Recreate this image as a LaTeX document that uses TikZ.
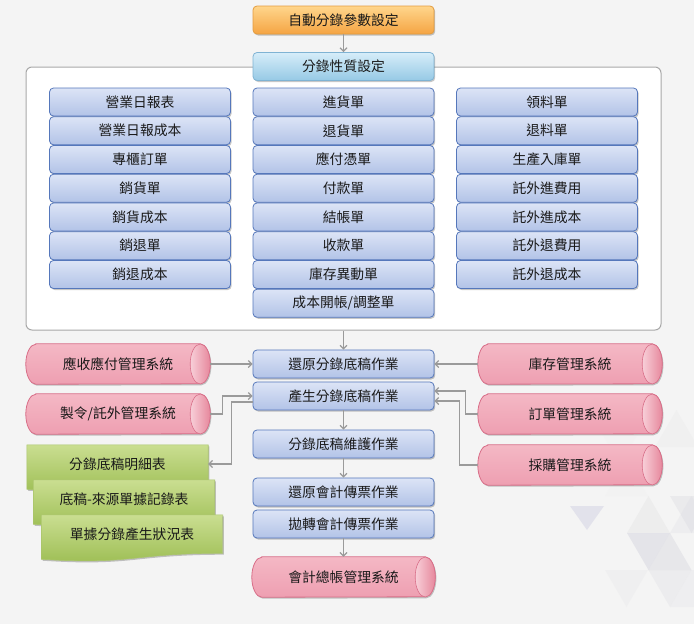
\documentclass[tikz,border=0pt]{standalone}
\usepackage{fontspec}
\newfontfamily\cjk{Noto Sans CJK TC}
\usetikzlibrary{arrows.meta,shadows,calc}
\pgfdeclarelayer{bg}\pgfdeclarelayer{mid}
\pgfsetlayers{bg,mid,main}
\definecolor{pagebg}{HTML}{F4F4F4}
\definecolor{boxtop}{HTML}{DCE4F6}
\definecolor{boxbot}{HTML}{B2C3E7}
\definecolor{boxline}{HTML}{5577BB}
\definecolor{ortop}{HTML}{FFD68C}
\definecolor{orbot}{HTML}{F5A443}
\definecolor{orline}{HTML}{E39C3F}
\definecolor{lbtop}{HTML}{D6EDF9}
\definecolor{lbbot}{HTML}{96C9E5}
\definecolor{lbline}{HTML}{7FB3D3}
\definecolor{pktop}{HTML}{F4B8C5}
\definecolor{pkmid}{HTML}{FBDCE3}
\definecolor{pkbot}{HTML}{EE9FB1}
\definecolor{pkline}{HTML}{D86E88}
\definecolor{pkendl}{HTML}{F8CFD8}
\definecolor{pkendr}{HTML}{E6889D}
\definecolor{grtop}{HTML}{CADE91}
\definecolor{grbot}{HTML}{9CBD52}
\definecolor{grline}{HTML}{A9C46A}
\definecolor{arrgray}{HTML}{9A9A9A}
\definecolor{panelline}{HTML}{A8A8A8}
\tikzset{
  base/.style={font=\cjk\fontsize{13.8}{16}\selectfont, text=black!90, inner sep=0pt, align=center},
  shade/.style={drop shadow={shadow xshift=1.2pt,shadow yshift=-1.5pt,fill=black,opacity=.22}},
  bluebox/.style={base, rectangle, rounded corners=4pt, minimum width=181pt, minimum height=28pt,
    draw=boxline, line width=0.8pt, top color=boxtop, bottom color=boxbot, shade},
  orbox/.style={bluebox, draw=orline, top color=ortop, bottom color=orbot},
  lbbox/.style={bluebox, draw=lbline, top color=lbtop, bottom color=lbbot},
  cylnode/.style={base, minimum width=184pt, minimum height=40pt},
  cylbody/.style={draw=pkline, line width=0.8pt, top color=pktop, middle color=pkmid, bottom color=pkbot, shade},
  cylend/.style={draw=pkline, line width=0.6pt, left color=pkendl, right color=pkendr},
  docnode/.style={base, minimum width=181pt, minimum height=38pt},
  docshape/.style={draw=grline, line width=0.6pt, top color=grtop, bottom color=grbot, shade},
  panelbox/.style={draw=panelline, line width=1pt, fill=white, rounded corners=6pt, inner sep=0pt},
  arr/.style={draw=arrgray, line width=1.2pt, -{Straight Barb[length=3.5pt,width=7pt]}},
  tri/.style={opacity=.32}
}
\newcommand\drawcyl[1]{%
  \path[cylbody] ([xshift=10pt]#1.north west) -- ([xshift=-10pt]#1.north east)
    arc[start angle=90,end angle=-90,x radius=10pt,y radius=20pt]
    -- ([xshift=10pt]#1.south west)
    arc[start angle=270,end angle=90,x radius=10pt,y radius=20pt] -- cycle;
  \path[cylend] ([xshift=-10pt]#1.east) ellipse[x radius=10pt,y radius=20pt];}
\newcommand\drawdoc[1]{%
  \path[docshape] (#1.north west) -- (#1.north east) -- (#1.south east)
    .. controls ($(#1.south east)+(-91,0)$) and ($(#1.south east)+(-91,12)$) .. ($(#1.south west)+(0,6)$) -- cycle;}
\begin{document}
\begin{tikzpicture}[x=1pt,y=-1pt]
\useasboundingbox (0,0) rectangle (694,624);
\begin{pgfonlayer}{bg}
  \fill[pagebg] (0,0) rectangle (694,624);
  \begin{scope}
    \clip (0,0) rectangle (694,624);
    \fill[tri, fill=white!85!blue!70!gray] (570,506) -- (604,506) -- (587,530) -- cycle;
    \fill[tri, fill=gray!25] (627,533) -- (670,533) -- (648.5,496) -- cycle;
    \fill[tri, fill=blue!15!gray!40] (627,533) -- (670,533) -- (648.5,570) -- cycle;
    \fill[tri, fill=blue!12!gray!35] (648.5,570) -- (691.5,570) -- (670,533) -- cycle;
    \fill[tri, fill=blue!10!gray!25] (648.5,570) -- (691.5,570) -- (670,607) -- cycle;
    \fill[tri, fill=blue!8!gray!22] (670,533) -- (713,533) -- (691.5,496) -- cycle;
    \fill[tri, fill=gray!18] (655,447) -- (698,447) -- (676.5,410) -- cycle;
    \fill[tri, fill=blue!6!gray!18] (605,570) -- (648,570) -- (626.5,607) -- cycle;
    \fill[tri, fill=gray!12] (605,496) -- (648,496) -- (626.5,459) -- cycle;
    \fill[tri, fill=blue!10!gray!30] (670,496) -- (713,496) -- (691.5,533) -- cycle;
    \fill[tri, fill=blue!8!gray!20] (691.5,570) -- (734,570) -- (713,607) -- (670,607) -- cycle;
    \fill[tri, fill=gray!12] (600,430) -- (640,430) -- (620,465) -- cycle;
  \end{scope}
\end{pgfonlayer}

% container
\node[panelbox, minimum width=635pt, minimum height=263pt] (panel) at (343.5,198.5) {};

% top boxes
\node[orbox] (auto) at (343.5,20) {自動分錄參數設定};
\node[lbbox] (nat) at (343.5,66.5) {分錄性質設定};

% three columns
\foreach \t [count=\i from 0] in {營業日報表,營業日報成本,專櫃訂單,銷貨單,銷貨成本,銷退單,銷退成本}
  \node[bluebox] (a\i) at (140,{102+28.75*\i}) {\t};
\foreach \t [count=\i from 0] in {進貨單,退貨單,應付憑單,付款單,結帳單,收款單,庫存異動單,成本開帳/調整單}
  \node[bluebox] (b\i) at (343.5,{102+28.75*\i}) {\t};
\foreach \t [count=\i from 0] in {領料單,退料單,生產入庫單,託外進費用,託外進成本,託外退費用,託外退成本}
  \node[bluebox] (c\i) at (547,{102+28.75*\i}) {\t};

% main column
\node[bluebox] (rev) at (343.5,364) {還原分錄底稿作業};
\node[bluebox] (gen) at (343.5,396) {產生分錄底稿作業};
\node[bluebox] (mnt) at (343.5,444) {分錄底稿維護作業};
\node[bluebox] (rvv) at (343.5,492) {還原會計傳票作業};
\node[bluebox] (pst) at (343.5,524) {拋轉會計傳票作業};
\node[cylnode, minimum width=183pt] (gl) at (343.5,577) {會計總帳管理系統};

% side systems
\node[cylnode] (ar) at (118,364) {應收應付管理系統};
\node[cylnode] (mo) at (118,414) {製令/託外管理系統};
\node[cylnode] (inv) at (570,364) {庫存管理系統};
\node[cylnode] (ord) at (570,414) {訂單管理系統};
\node[cylnode] (pur) at (570,465) {採購管理系統};

% reports
\node[docnode] (d1) at (117.5,464) {分錄底稿明細表};
\node[docnode] (d2) at (124,499) {底稿-來源單據記錄表};
\node[docnode] (d3) at (132,534) {單據分錄產生狀況表};

\begin{pgfonlayer}{mid}
  \drawcyl{gl}\drawcyl{ar}\drawcyl{mo}\drawcyl{inv}\drawcyl{ord}\drawcyl{pur}
  \drawdoc{d1}\drawdoc{d2}\drawdoc{d3}
\end{pgfonlayer}

% connectors
\draw[arr] (auto.south) -- (nat.north);
\draw[arr] (panel.south) -- (rev.north);
\draw[arr] (gen.south) -- (mnt.north);
\draw[arr] (mnt.south) -- (rvv.north);
\draw[arr] (pst.south) -- (gl.north);
\draw[arr] (ar.east) -- (rev.west);
\draw[arr] (mo.east) -- ++(12,0) |- (gen.west);
\draw[arr] ([yshift=-6pt]gen.west) -- ++(-21,0) |- (d1.east);
\draw[arr] (inv.west) -- (rev.east);
\draw[arr] (ord.west) -- ++(-12,0) |- ([yshift=5pt]gen.east);
\draw[arr] (pur.west) -- ++(-18,0) |- ([yshift=-5pt]gen.east);
\end{tikzpicture}
\end{document}
